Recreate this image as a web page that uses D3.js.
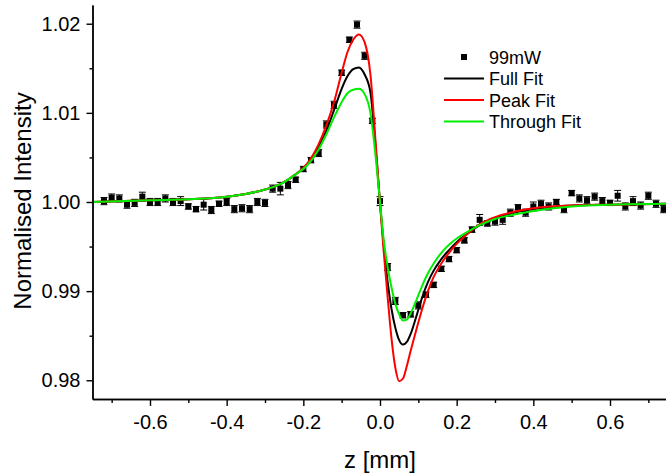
<!DOCTYPE html>
<html lang="en">
<head>
<meta charset="UTF-8">
<title>Normalised Intensity vs z</title>
<script src="https://d3js.org/d3.v7.min.js"></script>
<style>
  body { margin: 0; background: #fff; }
  svg { display: block; font-family: 'Liberation Sans', Arial, sans-serif; }
  .axis path, .axis line { stroke: #000; stroke-width: 1.4; }
  .axis text { font-size: 20px; fill: #000; }
</style>
</head>
<body>
<svg id="chart" width="666" height="476"></svg>
<script>
// --- measured points (99mW) ---
const zData = [-0.72, -0.70, -0.68, -0.66, -0.64, -0.62, -0.60, -0.58, -0.56, -0.54,
               -0.52, -0.50, -0.48, -0.46, -0.44, -0.42, -0.40, -0.38, -0.36, -0.34,
               -0.32, -0.30, -0.28, -0.26, -0.24, -0.22, -0.20, -0.18, -0.16, -0.14,
               -0.12, -0.10, -0.08, -0.06, -0.04, -0.02, 0.00, 0.02, 0.04, 0.06,
               0.08, 0.10, 0.12, 0.14, 0.16, 0.18, 0.20, 0.22, 0.24, 0.26,
               0.28, 0.30, 0.32, 0.34, 0.36, 0.38, 0.40, 0.42, 0.44, 0.46,
               0.48, 0.50, 0.52, 0.54, 0.56, 0.58, 0.60, 0.62, 0.64, 0.66,
               0.68, 0.70, 0.72, 0.74];
const intensity = [1.0001, 1.0005, 1.0004, 0.9997, 0.9999, 1.0006, 1.0000, 1.0000, 1.0004, 1.0000,
                   1.0001, 0.9995, 0.9992, 0.9997, 0.9991, 0.9998, 1.0000, 0.9992, 0.9993, 0.9992,
                   1.0000, 0.9999, 1.0015, 1.0015, 1.0019, 1.0025, 1.0037, 1.0047, 1.0055, 1.0087,
                   1.0109, 1.0145, 1.0182, 1.0199, 1.0164, 1.0091, 1.0001, 0.9927, 0.9889, 0.9873,
                   0.9874, 0.9884, 0.9896, 0.9907, 0.9925, 0.9936, 0.9946, 0.9957, 0.9969, 0.9980,
                   0.9976, 0.9978, 0.9980, 0.9988, 0.9994, 0.9988, 0.9995, 0.9998, 0.9995, 1.0000,
                   0.9992, 1.0010, 1.0004, 1.0002, 1.0006, 1.0001, 0.9999, 1.0007, 0.9995, 1.0001,
                   0.9996, 1.0007, 0.9998, 0.9992];
const errBar = [0.0004, 0.0004, 0.0004, 0.0004, 0.0004, 0.0005, 0.0004, 0.0004, 0.0004, 0.0004,
                0.0005, 0.0003, 0.0003, 0.0006, 0.0004, 0.0003, 0.0004, 0.0004, 0.0004, 0.0004,
                0.0004, 0.0004, 0.0004, 0.0007, 0.0004, 0.0003, 0.0003, 0.0003, 0.0004, 0.0004,
                0.0004, 0.0003, 0.0003, 0.0004, 0.0004, 0.0003, 0.0005, 0.0004, 0.0004, 0.0003,
                0.0003, 0.0004, 0.0003, 0.0003, 0.0003, 0.0003, 0.0003, 0.0003, 0.0003, 0.0006,
                0.0003, 0.0004, 0.0005, 0.0004, 0.0003, 0.0004, 0.0005, 0.0004, 0.0004, 0.0003,
                0.0004, 0.0003, 0.0004, 0.0004, 0.0004, 0.0004, 0.0003, 0.0006, 0.0004, 0.0005,
                0.0004, 0.0004, 0.0004, 0.0004];

const zFit = [-0.75, -0.6, -0.5, -0.4, -0.35, -0.3, -0.26, -0.22, -0.19, -0.16,
              -0.14, -0.12, -0.10, -0.085, -0.07, -0.055, -0.04, -0.025, -0.01, 0,
              0.01, 0.02, 0.03, 0.04, 0.05, 0.06, 0.07, 0.08, 0.095, 0.11,
              0.125, 0.14, 0.16, 0.18, 0.2, 0.23, 0.26, 0.3, 0.35, 0.4,
              0.5, 0.6, 0.75];
const fullFit = [1.0000, 1.0002, 1.0003, 1.0006, 1.0009, 1.0014, 1.0020, 1.0031, 1.0042, 1.0062,
                 1.0080, 1.0103, 1.0127, 1.0141, 1.0149, 1.0151, 1.0143, 1.0123, 1.0054, 0.9999,
                 0.9950, 0.9910, 0.9880, 0.9859, 0.9845, 0.9840, 0.9843, 0.9852, 0.9872, 0.9893,
                 0.9910, 0.9923, 0.9936, 0.9946, 0.9955, 0.9965, 0.9974, 0.9982, 0.9988, 0.9992,
                 0.9996, 0.9997, 0.9998];
const peakFit = [1.0000, 1.0002, 1.0003, 1.0006, 1.0009, 1.0014, 1.0020, 1.0031, 1.0043, 1.0065,
                 1.0086, 1.0112, 1.0145, 1.0168, 1.0182, 1.0188, 1.0179, 1.0143, 1.0058, 0.9998,
                 0.9943, 0.9893, 0.9847, 0.9814, 0.9799, 0.9802, 0.9816, 0.9833, 0.9857, 0.9880,
                 0.9900, 0.9916, 0.9931, 0.9943, 0.9953, 0.9965, 0.9975, 0.9983, 0.9989, 0.9993,
                 0.9996, 0.9997, 0.9998];
const throughFit = [1.0000, 1.0002, 1.0003, 1.0006, 1.0009, 1.0014, 1.0020, 1.0031, 1.0041, 1.0059,
                    1.0076, 1.0095, 1.0112, 1.0122, 1.0126, 1.0127, 1.0121, 1.0100, 1.0045, 1.0000,
                    0.9956, 0.9927, 0.9904, 0.9886, 0.9874, 0.9867, 0.9868, 0.9875, 0.9890, 0.9906,
                    0.9920, 0.9931, 0.9943, 0.9952, 0.9959, 0.9967, 0.9974, 0.9981, 0.9986, 0.9990,
                    0.9995, 0.9997, 0.9998];

const fits = [
  { name: "Full Fit", color: "#000000", values: fullFit },
  { name: "Peak Fit", color: "#ff0000", values: peakFit },
  { name: "Through Fit", color: "#00ee00", values: throughFit }
];

// ticks
const xMajor = [-0.6, -0.4, -0.2, 0.0, 0.2, 0.4, 0.6];
const xMinor = [-0.7, -0.5, -0.3, -0.1, 0.1, 0.3, 0.5, 0.7];
const yMajor = [0.98, 0.99, 1.00, 1.01, 1.02];
const yMinor = [0.985, 0.995, 1.005, 1.015];

const svg = d3.select("#chart");
const plotL = 92.5, plotR = 667.5, plotT = 5, plotB = 399;

const x = d3.scaleLinear().domain([-0.75, 0.75]).range([plotL, plotR]);
const y = d3.scaleLinear().domain([0.9779, 1.0221]).range([plotB, plotT]);

// --- data points with error bars (under the fit lines) ---
const pts = svg.append("g");
const pd = zData.map((z, i) => ({ z: z, v: intensity[i], e: errBar[i] }));
const pg = pts.selectAll("g").data(pd).join("g");
pg.append("line")
  .attr("x1", d => x(d.z)).attr("x2", d => x(d.z))
  .attr("y1", d => y(d.v + d.e)).attr("y2", d => y(d.v - d.e))
  .attr("stroke", "#000").attr("stroke-width", 1);
pg.append("line")
  .attr("x1", d => x(d.z) - 3.5).attr("x2", d => x(d.z) + 3.5)
  .attr("y1", d => y(d.v + d.e)).attr("y2", d => y(d.v + d.e))
  .attr("stroke", "#000").attr("stroke-width", 1);
pg.append("line")
  .attr("x1", d => x(d.z) - 3.5).attr("x2", d => x(d.z) + 3.5)
  .attr("y1", d => y(d.v - d.e)).attr("y2", d => y(d.v - d.e))
  .attr("stroke", "#000").attr("stroke-width", 1);
pg.append("rect")
  .attr("x", d => x(d.z) - 3).attr("y", d => y(d.v) - 3)
  .attr("width", 6).attr("height", 6)
  .attr("fill", "#000");

// --- fit curves ---
const line = d3.line()
  .x((d, i) => x(zFit[i]))
  .y(d => y(d))
  .curve(d3.curveMonotoneX);

svg.append("g")
  .selectAll("path")
  .data(fits)
  .join("path")
  .attr("d", d => line(d.values))
  .attr("fill", "none")
  .attr("stroke", d => d.color)
  .attr("stroke-width", 2);

// --- axes ---
const fmtX = d => d.toFixed(1);
const fmtY = d => d.toFixed(2);

svg.append("g").attr("class", "axis")
  .attr("transform", `translate(0,${plotB})`)
  .call(d3.axisBottom(x).tickValues(xMinor).tickSize(4).tickSizeOuter(0).tickFormat(""));
svg.append("g").attr("class", "axis")
  .attr("transform", `translate(0,${plotB})`)
  .call(d3.axisBottom(x).tickValues(xMajor).tickSize(7).tickSizeOuter(0).tickPadding(9).tickFormat(fmtX));

svg.append("g").attr("class", "axis")
  .attr("transform", `translate(${plotL},0)`)
  .call(d3.axisLeft(y).tickValues(yMinor).tickSize(3).tickSizeOuter(0).tickFormat(""));
svg.append("g").attr("class", "axis")
  .attr("transform", `translate(${plotL},0)`)
  .call(d3.axisLeft(y).tickValues(yMajor).tickSize(6).tickSizeOuter(0).tickPadding(6).tickFormat(fmtY));

// axis titles
svg.append("text")
  .attr("x", 380).attr("y", 468)
  .attr("text-anchor", "middle")
  .style("font-size", "24px")
  .text("z [mm]");

svg.append("text")
  .attr("transform", "translate(31,201) rotate(-90)")
  .attr("text-anchor", "middle")
  .style("font-size", "24px")
  .text("Normalised Intensity");

// --- legend ---
const lg = svg.append("g").attr("transform", "translate(444,57)");
lg.append("rect").attr("x", 17).attr("y", -3).attr("width", 6).attr("height", 6).attr("fill", "#000");
lg.append("text").attr("x", 45).attr("y", 6.5).style("font-size", "18px").text("99mW");
fits.forEach((f, i) => {
  const yy = 21.5 * (i + 1);
  lg.append("line").attr("x1", 0).attr("x2", 40).attr("y1", yy).attr("y2", yy)
    .attr("stroke", f.color).attr("stroke-width", 2);
  lg.append("text").attr("x", 45).attr("y", yy + 6.5).style("font-size", "18px").text(f.name);
});
</script>
</body>
</html>
